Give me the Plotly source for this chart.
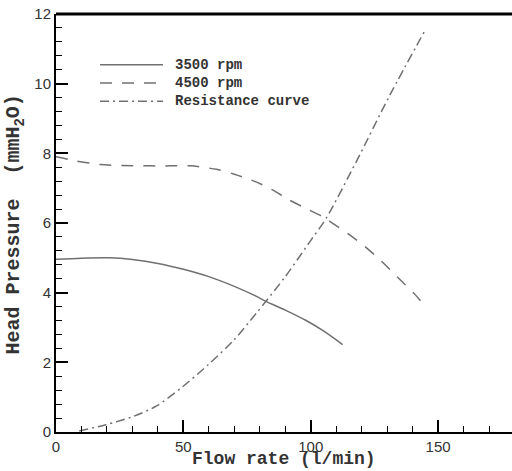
import plotly.graph_objects as go

# Pump characteristic curves (head vs. flow) and system resistance curve
flow_3500 = [0, 10, 21, 30, 40, 50, 60, 70, 78.5, 82.4, 90, 98.2, 105, 112.5]
head_3500 = [4.96, 4.99, 5.0, 4.95, 4.84, 4.67, 4.46, 4.18, 3.9, 3.75, 3.5, 3.2, 2.9, 2.51]

flow_4500 = [0, 8, 17.3, 26, 36.9, 45, 52.6, 63, 70, 78.5, 85, 91.6, 98, 104.7,
             107.6, 115.4, 122, 128.5, 135.1, 140.4, 145.6]
head_4500 = [7.9, 7.78, 7.68, 7.65, 7.64, 7.64, 7.64, 7.54, 7.4, 7.18, 6.95, 6.66, 6.42, 6.18,
             6.04, 5.65, 5.28, 4.85, 4.37, 3.99, 3.55]

flow_res = [9.1, 19.6, 30, 39.3, 49.7, 60, 69.7, 78.5, 90, 100.1, 106, 117.8, 130.9, 145.3]
head_res = [0.03, 0.21, 0.44, 0.74, 1.3, 1.95, 2.63, 3.4, 4.46, 5.51, 6.13, 7.75, 9.65, 11.59]

series_names = ["3500 rpm", "4500 rpm", "Resistance curve"]
series_dash = ["solid", "12px,10px", "9px,4px,2px,4px"]

x_ticks = [0, 50, 100, 150]
y_ticks = [0, 2, 4, 6, 8, 10, 12]

x_title = "Flow rate (l/min)"
y_title = "Head Pressure  (mmH<sub>2</sub>O)"

line_color = "#707070"
text_color = "#333333"
mono = "Liberation Mono, Courier New, monospace"
sans = "Liberation Sans, Arial, sans-serif"

fig = go.Figure()
for xs, ys, name, dash in zip([flow_3500, flow_4500, flow_res],
                              [head_3500, head_4500, head_res],
                              series_names, series_dash):
    fig.add_trace(go.Scatter(x=xs, y=ys, mode="lines", name=name, showlegend=False,
                             line=dict(color=line_color, width=1.5, dash=dash,
                                       shape="spline", smoothing=0.8)))

# hand-placed key in the upper left of the plot area: sample lines + one text block
key_x0, key_x1, key_text_x = 0.0965, 0.2346, 0.2566
key_mid = 0.835
key_step = 18.2 / 418  # one text line, in paper units
for i, dash in enumerate(series_dash):
    ky = key_mid + (1 - i) * key_step
    fig.add_shape(type="line", xref="paper", yref="paper", x0=key_x0, x1=key_x1, y0=ky, y1=ky,
                  line=dict(color=line_color, width=1.5, dash=dash))
fig.add_annotation(xref="paper", yref="paper", x=key_text_x, y=key_mid,
                   text="<br>".join(series_names), align="left",
                   showarrow=False, xanchor="left", yanchor="middle",
                   font=dict(family=mono, size=14, color=text_color, weight="bold"))

# axis titles, placed in paper coordinates so the plot area keeps its size
title_font = dict(family=mono, size=18, color=text_color, weight="bold")
fig.add_annotation(xref="paper", yref="paper", x=0.5, y=-0.0921, text=x_title,
                   showarrow=False, xanchor="center", yanchor="bottom", borderpad=0,
                   font=title_font)
fig.add_annotation(xref="paper", yref="paper", x=-0.091, y=0.495, text=y_title,
                   textangle=-90, showarrow=False, xanchor="center", yanchor="middle",
                   font=dict(title_font, size=20))

fig.update_layout(
    width=512, height=471,
    margin=dict(l=56, r=0, t=14, b=39),
    paper_bgcolor="white", plot_bgcolor="white",
    showlegend=False,
    xaxis=dict(range=[0, 179], tickvals=x_ticks, showgrid=False, zeroline=False,
               automargin=False,
               showline=True, linecolor="black", linewidth=2,
               ticks="inside", ticklen=12, tickwidth=2, tickcolor="black",
               minor=dict(ticks="inside", dtick=10, ticklen=6, tickwidth=1, tickcolor="black"),
               tickfont=dict(family=sans, size=15, color=text_color)),
    yaxis=dict(range=[0, 12], tickvals=y_ticks, showgrid=False, zeroline=False,
               automargin=False,
               showline=True, linecolor="black", linewidth=2,
               ticks="inside", ticklen=12, tickwidth=2, tickcolor="black",
               minor=dict(ticks="inside", dtick=0.4, ticklen=6, tickwidth=1, tickcolor="black"),
               tickfont=dict(family=sans, size=15, color=text_color)),
)

# heavy frame line along the top of the plot area
fig.add_shape(type="line", xref="paper", yref="paper", x0=0, x1=1, y0=1, y1=1,
              line=dict(color="black", width=3))

fig.write_html("out.html")
